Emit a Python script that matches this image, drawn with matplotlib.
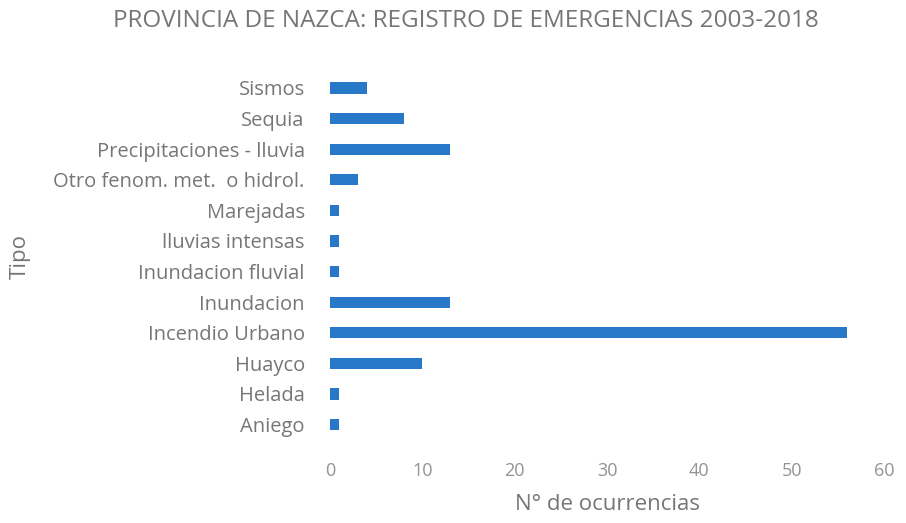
import matplotlib.pyplot as plt

# categories listed bottom to top
tipos = ["Aniego", "Helada", "Huayco", "Incendio Urbano", "Inundacion",
         "Inundacion fluvial", "lluvias intensas", "Marejadas",
         "Otro fenom. met.  o hidrol.", "Precipitaciones - lluvia",
         "Sequia", "Sismos"]
ocurrencias = [1, 1, 10, 56, 13, 1, 1, 1, 3, 13, 8, 4]
xticks = [0, 10, 20, 30, 40, 50, 60]

plt.rcParams['font.family'] = ['Open Sans', 'DejaVu Sans']
grey = "#767676"

fig = plt.figure(figsize=(9.06, 5.23), dpi=100)
ax = fig.add_axes([0.364, 0.159, 0.612, 0.702])

ax.barh(tipos, ocurrencias, height=0.37, color="#2878c8")

ax.set_xlim(0, 60)
ax.set_ylim(-0.5, len(tipos) - 0.5)
ax.set_xticks(xticks)
ax.tick_params(axis='both', length=0, colors=grey, labelsize=14.5)
ax.tick_params(axis='x', pad=16, colors="#939393", labelsize=13)
ax.tick_params(axis='y', pad=18)
for s in ax.spines.values():
    s.set_visible(False)

ax.set_xlabel("N° de ocurrencias", fontsize=16, color=grey, labelpad=10)
ax.set_ylabel("Tipo", fontsize=16, color=grey)
ax.yaxis.set_label_coords(-0.54, 0.5)

fig.text(0.514, 0.96, "PROVINCIA DE NAZCA: REGISTRO DE EMERGENCIAS 2003-2018",
         ha='center', va='center', fontsize=17.5, color=grey)

plt.savefig("out.png")
